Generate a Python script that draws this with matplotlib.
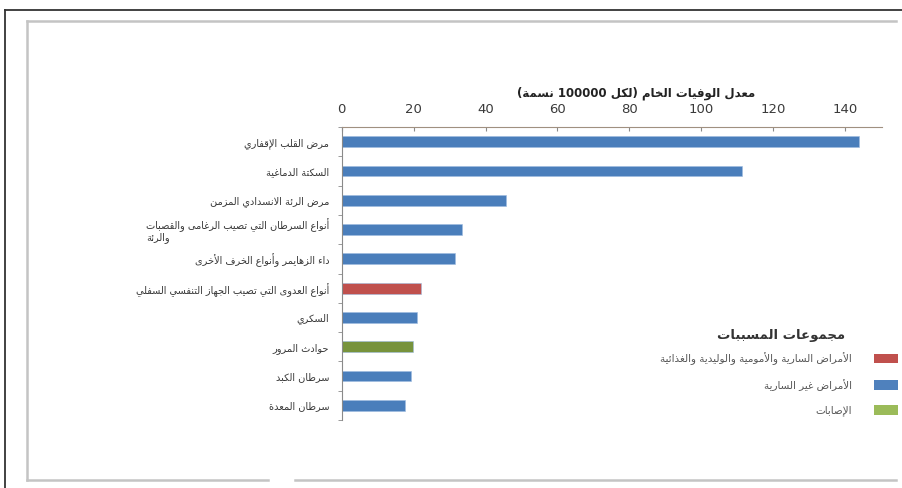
import numpy as np
import matplotlib
matplotlib.use("Agg")
import matplotlib.pyplot as plt
from matplotlib.patches import Patch
from matplotlib.lines import Line2D

# ---------- data ----------
causes = [
    "مرض القلب الإقفاري",
    "السكتة الدماغية",
    "مرض الرئة الانسدادي المزمن",
    "أنواع السرطان التي تصيب الرغامى والقصبات\nوالرئة",
    "داء الزهايمر وأنواع الخرف الأخرى",
    "أنواع العدوى التي تصيب الجهاز التنفسي السفلي",
    "السكري",
    "حوادث المرور",
    "سرطان الكبد",
    "سرطان المعدة",
]
rates = [144.0, 111.3, 45.6, 33.4, 31.6, 22.0, 21.0, 19.8, 19.4, 17.5]
groups = ["noncommunicable", "noncommunicable", "noncommunicable", "noncommunicable",
          "noncommunicable", "communicable", "noncommunicable", "injuries",
          "noncommunicable", "noncommunicable"]

group_labels = {
    "communicable": "الأمراض السارية والأمومية والوليدية والغذائية",
    "noncommunicable": "الأمراض غير السارية",
    "injuries": "الإصابات",
}
legend_title = "مجموعات المسببات"
axis_title = "معدل الوفيات الخام (لكل 100000 نسمة)"
xticks = [0, 20, 40, 60, 80, 100, 120, 140]

bar_colors = {"communicable": "#c0504d", "noncommunicable": "#4a7ebb", "injuries": "#77933c"}
legend_colors = {"communicable": "#c0504d", "noncommunicable": "#4f81bd", "injuries": "#9bbb59"}

# ---------- minimal arabic shaping (no raqm in matplotlib) ----------
FORMS = {
    "\u0621": ("\uFE80", None, None, None),
    "\u0622": ("\uFE81", "\uFE82", None, None),
    "\u0623": ("\uFE83", "\uFE84", None, None),
    "\u0624": ("\uFE85", "\uFE86", None, None),
    "\u0625": ("\uFE87", "\uFE88", None, None),
    "\u0626": ("\uFE89", "\uFE8A", "\uFE8B", "\uFE8C"),
    "\u0627": ("\uFE8D", "\uFE8E", None, None),
    "\u0628": ("\uFE8F", "\uFE90", "\uFE91", "\uFE92"),
    "\u0629": ("\uFE93", "\uFE94", None, None),
    "\u062A": ("\uFE95", "\uFE96", "\uFE97", "\uFE98"),
    "\u062B": ("\uFE99", "\uFE9A", "\uFE9B", "\uFE9C"),
    "\u062C": ("\uFE9D", "\uFE9E", "\uFE9F", "\uFEA0"),
    "\u062D": ("\uFEA1", "\uFEA2", "\uFEA3", "\uFEA4"),
    "\u062E": ("\uFEA5", "\uFEA6", "\uFEA7", "\uFEA8"),
    "\u062F": ("\uFEA9", "\uFEAA", None, None),
    "\u0630": ("\uFEAB", "\uFEAC", None, None),
    "\u0631": ("\uFEAD", "\uFEAE", None, None),
    "\u0632": ("\uFEAF", "\uFEB0", None, None),
    "\u0633": ("\uFEB1", "\uFEB2", "\uFEB3", "\uFEB4"),
    "\u0634": ("\uFEB5", "\uFEB6", "\uFEB7", "\uFEB8"),
    "\u0635": ("\uFEB9", "\uFEBA", "\uFEBB", "\uFEBC"),
    "\u0636": ("\uFEBD", "\uFEBE", "\uFEBF", "\uFEC0"),
    "\u0637": ("\uFEC1", "\uFEC2", "\uFEC3", "\uFEC4"),
    "\u0638": ("\uFEC5", "\uFEC6", "\uFEC7", "\uFEC8"),
    "\u0639": ("\uFEC9", "\uFECA", "\uFECB", "\uFECC"),
    "\u063A": ("\uFECD", "\uFECE", "\uFECF", "\uFED0"),
    "\u0641": ("\uFED1", "\uFED2", "\uFED3", "\uFED4"),
    "\u0642": ("\uFED5", "\uFED6", "\uFED7", "\uFED8"),
    "\u0643": ("\uFED9", "\uFEDA", "\uFEDB", "\uFEDC"),
    "\u0644": ("\uFEDD", "\uFEDE", "\uFEDF", "\uFEE0"),
    "\u0645": ("\uFEE1", "\uFEE2", "\uFEE3", "\uFEE4"),
    "\u0646": ("\uFEE5", "\uFEE6", "\uFEE7", "\uFEE8"),
    "\u0647": ("\uFEE9", "\uFEEA", "\uFEEB", "\uFEEC"),
    "\u0648": ("\uFEED", "\uFEEE", None, None),
    "\u0649": ("\uFEEF", "\uFEF0", None, None),
    "\u064A": ("\uFEF1", "\uFEF2", "\uFEF3", "\uFEF4"),
}
LAM_ALEF = {"\u0622": ("\uFEF5", "\uFEF6"), "\u0623": ("\uFEF7", "\uFEF8"),
            "\u0625": ("\uFEF9", "\uFEFA"), "\u0627": ("\uFEFB", "\uFEFC")}

def joins_next(ch):
    f = FORMS.get(ch)
    return f is not None and f[2] is not None

def shape_line(s):
    # merge lam-alef first
    chars = []
    i = 0
    while i < len(s):
        if s[i] == "\u0644" and i + 1 < len(s) and s[i + 1] in LAM_ALEF:
            chars.append(("LA", s[i + 1]))
            i += 2
        else:
            chars.append(("C", s[i]))
            i += 1
    out = []
    for k, (kind, ch) in enumerate(chars):
        prev = chars[k - 1] if k > 0 else None
        nxt = chars[k + 1] if k + 1 < len(chars) else None
        prev_joins = prev is not None and prev[0] == "C" and joins_next(prev[1])
        if kind == "LA":
            out.append(LAM_ALEF[ch][1 if prev_joins else 0])
            continue
        f = FORMS.get(ch)
        if f is None:
            out.append(ch)
            continue
        cp = prev_joins
        cn = joins_next(ch) and nxt is not None and (nxt[0] == "LA" or nxt[1] in FORMS)
        if cp and cn:
            out.append(f[3])
        elif cp:
            out.append(f[1] or f[0])
        elif cn:
            out.append(f[2])
        else:
            out.append(f[0])
    vis = "".join(out)[::-1]
    # keep digit runs left-to-right, mirror brackets
    res, run = [], ""
    for ch in vis:
        if ch.isdigit():
            run += ch
        else:
            if run:
                res.append(run[::-1]); run = ""
            res.append({"(": ")", ")": "("}.get(ch, ch))
    if run:
        res.append(run[::-1])
    return "".join(res)

def ar(s):
    return "\n".join(shape_line(line) for line in s.split("\n"))

# ---------- figure ----------
plt.rcParams["font.family"] = ["DejaVu Sans"]
fig = plt.figure(figsize=(9.02, 4.88), dpi=100)
W, H = 902.0, 488.0

# outer black frame and inner grey panel border
fig.add_artist(Line2D([5 / W, 1.0], [1 - 10 / H] * 2, color="#333333", lw=1.3))
fig.add_artist(Line2D([5 / W] * 2, [0, 1 - 10 / H], color="#333333", lw=1.3))
grey = "#c4c4c4"
fig.add_artist(Line2D([27 / W, 896 / W], [1 - 21 / H] * 2, color=grey, lw=1.8))
fig.add_artist(Line2D([27 / W] * 2, [1 - 480 / H, 1 - 21 / H], color=grey, lw=1.8))
fig.add_artist(Line2D([27 / W, 268 / W], [1 - 480 / H] * 2, color=grey, lw=1.8))
fig.add_artist(Line2D([295 / W, 896 / W], [1 - 480 / H] * 2, color=grey, lw=1.8))

x0, x1 = 341.7, 882.0
y_top, y_bot = 127.0, 420.0
ax = fig.add_axes([x0 / W, 1 - y_bot / H, (x1 - x0) / W, (y_bot - y_top) / H])
xmax = 140 * (x1 - x0) / (845 - x0)

y = np.arange(len(causes))
ax.barh(y, rates, height=0.37, color=[bar_colors[g] for g in groups],
        edgecolor="#9dbbe0", linewidth=0.4)

ax.set_xlim(0, xmax)
ax.set_ylim(len(causes) - 0.5, -0.5)
ax.xaxis.tick_top()
ax.set_xticks(xticks)
ax.tick_params(axis="x", direction="in", length=3, color="#8a8a8a", pad=8,
               labelsize=9.5, labelcolor="#3a3a3a")
ax.set_yticks(y)
labels = ax.set_yticklabels([ar(c) for c in causes], fontsize=7, color="#383838",
                            linespacing=1.0)
labels[3].set_multialignment("left")
ax.set_yticks(np.arange(len(causes) + 1) - 0.5, minor=True)
ax.tick_params(axis="y", which="major", length=0, pad=9)
ax.tick_params(axis="y", which="minor", length=3, color="#8a8a8a")

for side in ["right", "bottom"]:
    ax.spines[side].set_visible(False)
ax.spines["top"].set_color("#a09080")
ax.spines["left"].set_color("#8a8a8a")
ax.patch.set_alpha(0)

fig.text(636 / W, 1 - 93 / H, ar(axis_title), ha="center", va="center",
         fontsize=8.5, fontweight="bold", color="#222222")

# legend
fig.text(845 / W, 1 - 335 / H, ar(legend_title), ha="right", va="center",
         fontsize=9.5, fontweight="bold", color="#333333")
handles = [Patch(facecolor=legend_colors[k], edgecolor="none", label=ar(group_labels[k]))
           for k in ["communicable", "noncommunicable", "injuries"]]
fig.legend(handles=handles, loc="upper right", bbox_to_anchor=(898 / W, 1 - 352 / H),
           frameon=False, markerfirst=False, fontsize=7.5, handlelength=2.3,
           handleheight=1.05, handletextpad=2.1, labelspacing=1.35, borderpad=0,
           borderaxespad=0, labelcolor="#555555")

fig.savefig("out.png", dpi=100)
